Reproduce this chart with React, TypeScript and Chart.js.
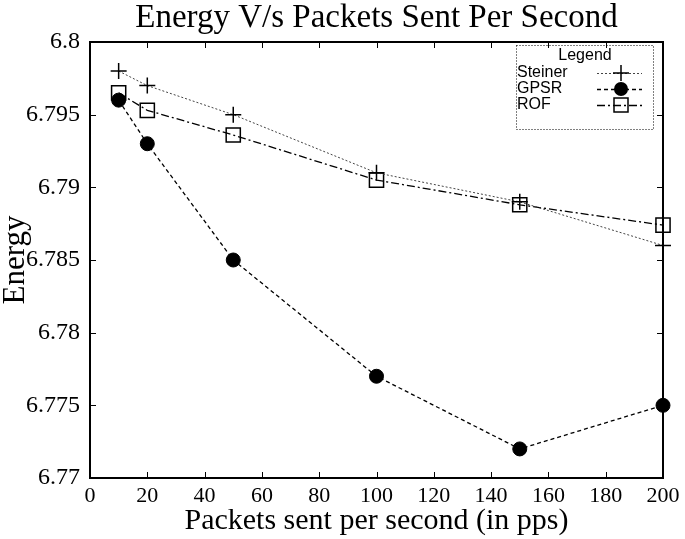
import React, { useEffect, useRef } from "react";
import { Chart, registerables } from "chart.js";

Chart.register(...registerables);

const xValues = [10, 20, 50, 100, 150, 200];
const steinerValues = [6.798, 6.797, 6.795, 6.791, 6.789, 6.786];
const gpsrValues = [6.796, 6.793, 6.785, 6.777, 6.772, 6.775];
const rofValues = [6.7965, 6.7953, 6.7936, 6.7905, 6.7888, 6.7874];
const seriesNames = ["Steiner", "GPSR", "ROF"];
const chartTitle = "Energy V/s Packets Sent Per Second";

const SERIF = "'Liberation Serif', 'Times New Roman', serif";
const SANS = "'Liberation Sans', Arial, sans-serif";

const framePlugin = {
  id: "frame",
  afterDraw(chart: any) {
    const { ctx, chartArea, scales } = chart;
    const { left, right, top, bottom } = chartArea;
    ctx.save();
    // title centred over the plot area
    ctx.fillStyle = "#000";
    ctx.font = `33px ${SERIF}`;
    ctx.textAlign = "center";
    ctx.textBaseline = "alphabetic";
    ctx.fillText(chartTitle, (left + right) / 2, 27);

    ctx.strokeStyle = "#000";
    ctx.lineWidth = 1;
    ctx.setLineDash([]);
    const tl = 6;
    ctx.beginPath();
    scales.x.ticks.forEach((t: any) => {
      const px = Math.round(scales.x.getPixelForValue(t.value)) + 0.5;
      ctx.moveTo(px, bottom);
      ctx.lineTo(px, bottom - tl);
      ctx.moveTo(px, top);
      ctx.lineTo(px, top + tl);
    });
    scales.y.ticks.forEach((t: any) => {
      const py = Math.round(scales.y.getPixelForValue(t.value)) + 0.5;
      ctx.moveTo(left, py);
      ctx.lineTo(left + tl, py);
      ctx.moveTo(right, py);
      ctx.lineTo(right - tl, py);
    });
    ctx.stroke();
    ctx.lineWidth = 2;
    ctx.strokeRect(left, top, right - left, bottom - top);

    // legend box
    const bx = 516, by = 45, bw = 137, bh = 84;
    ctx.lineWidth = 1;
    ctx.setLineDash([1, 2]);
    ctx.strokeRect(bx + 0.5, by + 0.5, bw, bh);
    ctx.setLineDash([]);
    ctx.fillStyle = "#000";
    ctx.font = `16px ${SANS}`;
    ctx.textBaseline = "middle";
    ctx.textAlign = "center";
    ctx.fillText("Legend", 585, 56);
    ctx.textAlign = "left";
    const rows = [73, 89, 105];
    chart.data.datasets.forEach((ds: any, i: number) => {
      const y = rows[i];
      ctx.fillStyle = "#000";
      ctx.fillText(seriesNames[i], 517, y);
      ctx.save();
      ctx.strokeStyle = ds.borderColor;
      ctx.lineWidth = ds.borderWidth;
      ctx.setLineDash(ds.borderDash || []);
      ctx.beginPath();
      ctx.moveTo(597, y + 0.5);
      ctx.lineTo(642, y + 0.5);
      ctx.stroke();
      ctx.setLineDash([]);
      ctx.strokeStyle = "#000";
      ctx.lineWidth = ds.pointBorderWidth;
      const cx = 621;
      if (ds.pointStyle === "cross") {
        ctx.beginPath();
        ctx.moveTo(cx - 8, y);
        ctx.lineTo(cx + 8, y);
        ctx.moveTo(cx, y - 8);
        ctx.lineTo(cx, y + 8);
        ctx.stroke();
      } else if (ds.pointStyle === "circle") {
        ctx.fillStyle = "#000";
        ctx.beginPath();
        ctx.arc(cx, y, 7, 0, Math.PI * 2);
        ctx.fill();
      } else {
        ctx.strokeRect(cx - 7, y - 7, 14, 14);
      }
      ctx.restore();
    });
    ctx.restore();
  },
};

export default function App() {
  const ref = useRef<HTMLCanvasElement>(null);
  useEffect(() => {
    document.body.style.margin = "0";
    Chart.defaults.color = "#000";
    const mk = (vals: number[]) => xValues.map((x, i) => ({ x, y: vals[i] }));
    const chart = new Chart(ref.current!, {
      type: "line",
      data: {
        datasets: [
          {
            label: seriesNames[0],
            data: mk(steinerValues),
            borderColor: "#444",
            borderWidth: 1,
            borderDash: [2, 2],
            pointStyle: "cross",
            pointRadius: 8,
            pointBorderColor: "#000",
            pointBackgroundColor: "#000",
            pointBorderWidth: 1.5,
            clip: false as any,
          },
          {
            label: seriesNames[1],
            data: mk(gpsrValues),
            borderColor: "#000",
            borderWidth: 1.3,
            borderDash: [4, 3],
            pointStyle: "circle",
            pointRadius: 7,
            pointBorderColor: "#000",
            pointBackgroundColor: "#000",
            pointBorderWidth: 1,
            clip: false as any,
          },
          {
            label: seriesNames[2],
            data: mk(rofValues),
            borderColor: "#000",
            borderWidth: 1.3,
            borderDash: [8, 3, 2, 3],
            pointStyle: "rect",
            pointRadius: 10,
            pointBorderColor: "#000",
            pointBackgroundColor: "rgba(0,0,0,0)",
            pointBorderWidth: 1.5,
            clip: false as any,
          },
        ],
      },
      options: {
        animation: false,
        responsive: false,
        layout: { padding: { left: 0, right: 22, top: 42, bottom: 0 } },
        plugins: {
          legend: { display: false },
          tooltip: { enabled: false },
          title: { display: false },
        },
        scales: {
          x: {
            type: "linear",
            min: 0,
            max: 200,
            grid: { display: false, drawTicks: false },
            border: { display: false },
            ticks: {
              stepSize: 20,
              padding: 5,
              maxRotation: 0,
              color: "#000",
              font: { family: SERIF, size: 22 },
            },
            title: {
              display: true,
              text: "Packets sent per second (in pps)",
              color: "#000",
              font: { family: SERIF, size: 30, lineHeight: 1.0 },
              padding: { top: 0, bottom: 3 },
            },
            afterFit: (s: any) => {
              s.height = 61;
            },
          },
          y: {
            type: "linear",
            min: 6.77,
            max: 6.8,
            grid: { display: false, drawTicks: false },
            border: { display: false },
            ticks: {
              stepSize: 0.005,
              padding: 10,
              color: "#000",
              font: { family: SERIF, size: 24 },
              callback: (v: any) => parseFloat(Number(v).toFixed(3)).toString(),
            },
            title: {
              display: true,
              text: "Energy",
              color: "#000",
              font: { family: SERIF, size: 31, lineHeight: 1.0 },
              padding: { top: 0, bottom: 0 },
            },
            afterFit: (s: any) => {
              s.width = 90;
            },
          },
        },
      } as any,
      plugins: [framePlugin],
    });
    return () => chart.destroy();
  }, []);
  return (
    <div style={{ width: 685, height: 539, background: "#fff" }}>
      <canvas ref={ref} width={685} height={539} />
    </div>
  );
}
